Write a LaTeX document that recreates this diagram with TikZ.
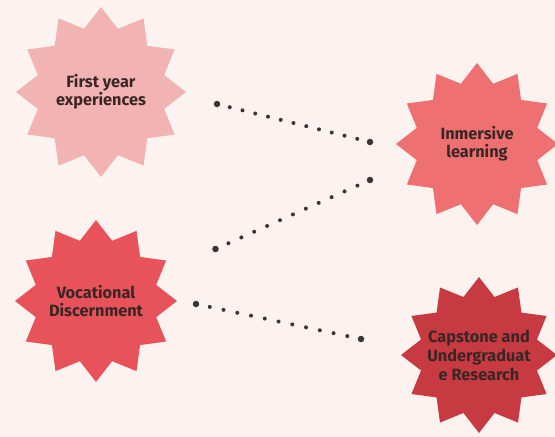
\documentclass[tikz,border=0pt]{standalone}
\usepackage{fontspec}
\setmainfont{Fira Sans}
\usetikzlibrary{shapes.geometric}
\definecolor{bg}{HTML}{FCF2F0}
\definecolor{cA}{HTML}{F2B4B3}
\definecolor{cB}{HTML}{EE7070}
\definecolor{cC}{HTML}{E8525A}
\definecolor{cD}{HTML}{C73A41}
\definecolor{txt}{HTML}{3B2626}
\definecolor{dotc}{HTML}{3A3434}
\tikzset{
  burst/.style={star, star points=12, star point ratio=1.3, inner sep=0pt, draw=none},
  burstlabel/.style={inner sep=0pt, font=\bfseries\fontsize{16.3}{18}\selectfont, text=txt, align=center},
  enddot/.style={circle, fill=dotc, inner sep=0pt, minimum size=6.5pt},
  dotline/.style={draw=dotc, line width=4pt, line cap=round}
}
\begin{document}
\begin{tikzpicture}[x=1pt,y=-1pt]
\fill[bg] (0,0) rectangle (555,437);
\useasboundingbox (0,0) rectangle (555,437);
\node[burst, fill=cA, minimum size=170pt] (fy) at (101,92) {};
\node[burst, fill=cB, minimum size=162pt] (im) at (477,144) {};
\node[burst, fill=cC, minimum size=162pt] (vd) at (96,301) {};
\node[burst, fill=cD, minimum size=156pt] (cu) at (479,355) {};
\node[burstlabel] (fyt) at (fy) {First year\\experiences};
\node[burstlabel] (imt) at (im) {Inmersive\\learning};
\node[burstlabel] (vdt) at (vd) {Vocational\\Discernment};
\node[burstlabel, font=\bfseries\fontsize{16.3}{19}\selectfont] (cut) at (cu) {Capstone and\\Undergraduat\\e Research};
\node[enddot] (a1) at (217,104) {};
\node[enddot] (b1) at (370,142) {};
\node[enddot] (a2) at (215.5,249) {};
\node[enddot] (b2) at (370,180) {};
\node[enddot] (a3) at (196,304) {};
\node[enddot] (b3) at (361,339) {};
\draw[dotline, dash pattern=on 0pt off 13.137pt] (a1.center) -- (b1.center);
\draw[dotline, dash pattern=on 0pt off 14.13pt] (a2.center) -- (b2.center);
\draw[dotline, dash pattern=on 0pt off 14.06pt] (a3.center) -- (b3.center);
\end{tikzpicture}
\end{document}
